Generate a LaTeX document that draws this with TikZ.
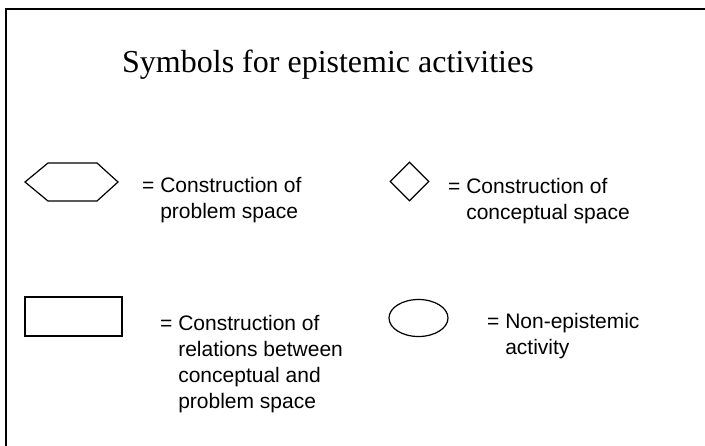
\documentclass[tikz,border=0pt]{standalone}
\usepackage{fontspec}
\setmainfont{Liberation Serif}
\newfontfamily\arialfont{Liberation Sans}
\usepackage{tikz}
\usetikzlibrary{shapes.geometric}

\tikzset{
    symb/.style={draw, line width=1.2pt, inner sep=0pt},
    lbl/.style={anchor=north west, inner sep=0pt, align=left, font=\arialfont\fontsize{21}{26}\selectfont}
}

\begin{document}
\begin{tikzpicture}[x=1pt, y=-1pt]
            \useasboundingbox (0,0) rectangle (705,445);
            \begin{scope}
                \clip (0,0) rectangle (705,445);
                \draw[line width=1.5pt] (6,9) rectangle (730,470);
            \end{scope}
            \node[anchor=base west, inner sep=0pt, font=\fontsize{32}{38}\selectfont] at (122,72.5) (title) {Symbols for epistemic activities};
            \draw[line width=1.2pt] (25,182) -- (48,163) -- (97,163) -- (118,182) -- (97,201) -- (48,201) -- cycle;
            \node[lbl] at (142,177) (hexalbl) {= Construction of\\\phantom{= }problem space};
            \node[symb, diamond, minimum width=39pt, minimum height=39pt] at (409.5,181.5) (diam) {};
            \node[lbl] at (448,178) (diamlbl) {= Construction of\\\phantom{= }conceptual space};
            \node[symb, rectangle, minimum width=97pt, minimum height=39pt] at (73.5,316.5) (rect) {};
            \node[lbl] at (160,315.5) (rectlbl) {= Construction of\\\phantom{= }relations between\\\phantom{= }conceptual and\\\phantom{= }problem space};
            \node[symb, ellipse, minimum width=59pt, minimum height=37pt] at (418.5,318) (elli) {};
            \node[lbl] at (487,313.5) (ellilbl) {= Non-epistemic\\\phantom{= }activity};
        \end{tikzpicture}
\end{document}
